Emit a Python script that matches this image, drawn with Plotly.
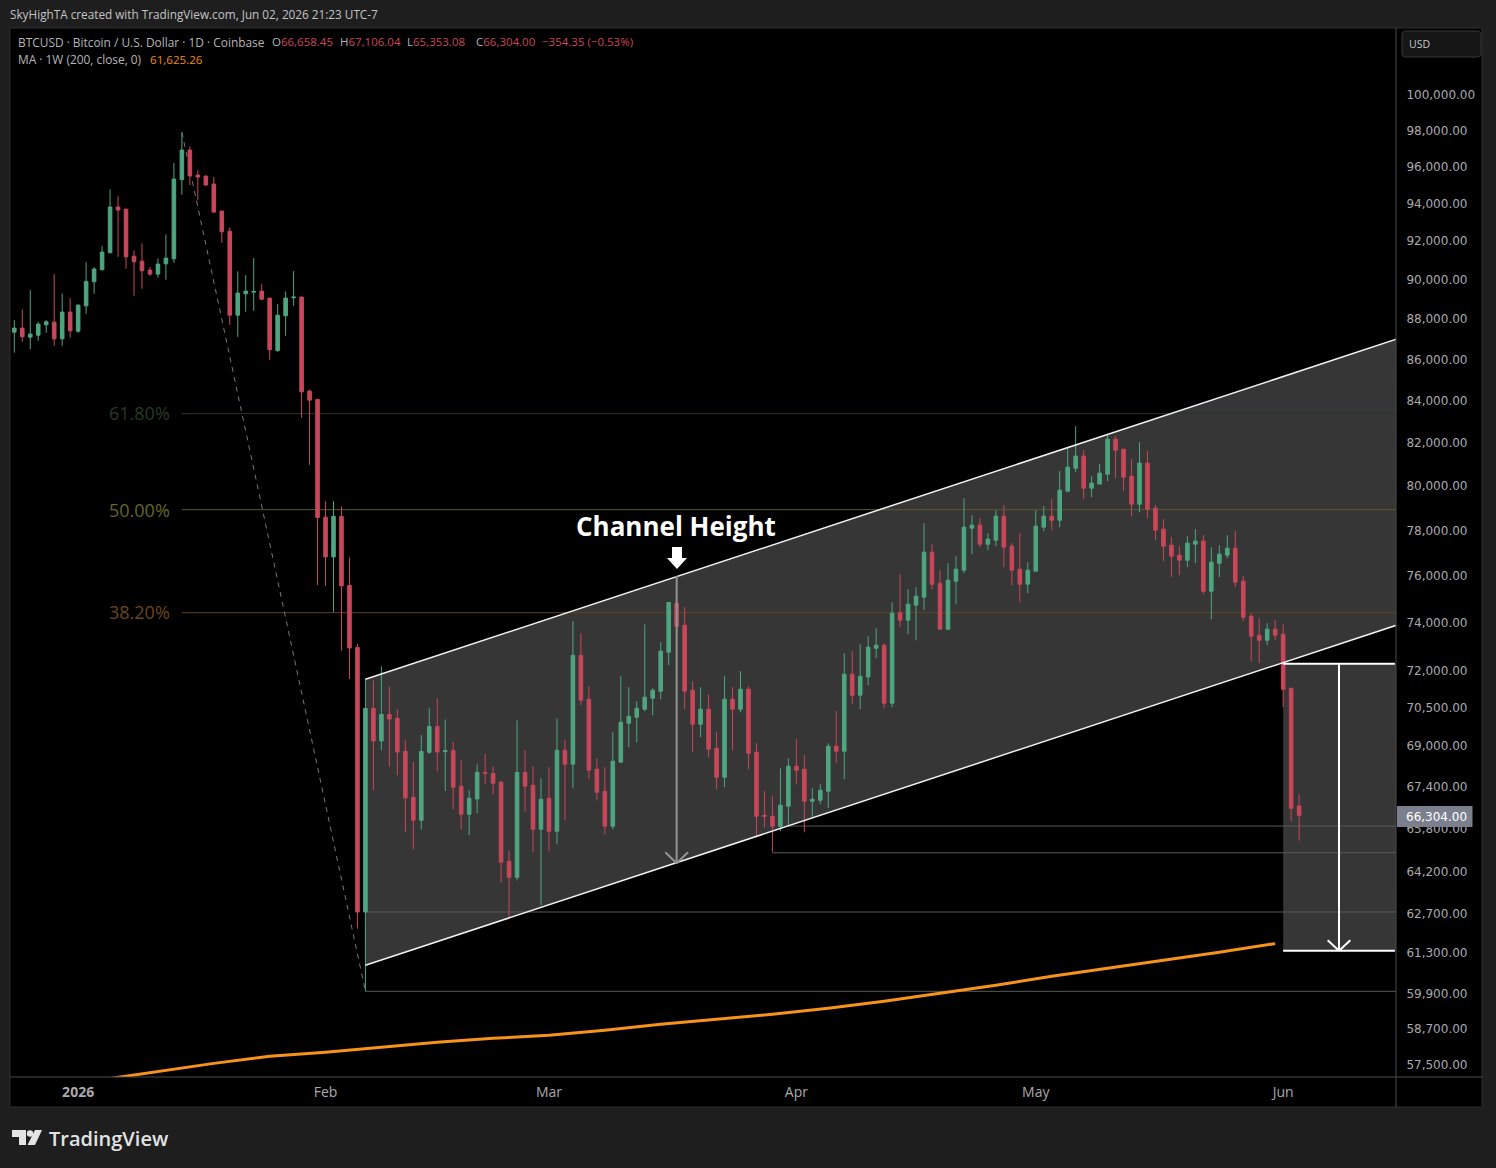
import pandas as pd
import plotly.graph_objects as go

# Daily BTCUSD bars, consecutive days from the first session
first_session = "2025-12-24"
opens = [
    87350, 87550, 87100, 87200, 87716, 87850, 87016, 88354, 87400, 88670, 89895, 90512, 91394, 93810, 93700, 91220,
    90960, 90496, 90290, 90822, 91080, 95290, 96911, 95538, 95480, 95050, 93595, 92530, 88200, 89280, 89366, 89418,
    89062, 86440, 88170, 89080, 89115, 84460, 84060, 78600, 76838, 78632, 75596, 72965, 62747, 70470, 69180, 70230,
    70070, 68774, 66990, 66118, 68735, 69750, 68760, 68800, 67414, 66345, 66927, 67943, 67905, 67568, 64590, 64000,
    67943, 67452, 65780, 66953, 65704, 68813, 68265, 72646, 70845, 68070, 67222, 65892, 68343, 69880, 70120, 70442,
    70886, 71170, 72771, 74835, 73900, 71210, 69840, 70442, 68892, 67761, 70845, 70442, 71250, 68735, 66307, 66270,
    65892, 66650, 68188, 68070, 66839, 66877, 67222, 68970, 68774, 71864, 71007, 71750, 72937, 73062, 70684, 74421,
    74112, 74750, 75091, 77045, 75695, 73733, 75781, 76258, 78108, 78242, 77398, 77575, 78645, 77310, 76302, 75651,
    76214, 78153, 78645, 78465, 79775, 80828, 81384, 79911, 80095, 80552, 82177, 81710, 80460, 79185, 81060, 79004,
    78064, 77354, 76914, 76694, 77398, 77531, 75349, 76563, 76914, 77221, 75781, 74281, 73481, 73271, 73733, 73523,
    71290, 66658.45,
]
highs = [
    87950, 88490, 89469, 87866, 87950, 90290, 89300, 89062, 88756, 90894, 90652, 91745, 94762, 94400, 93700, 91520,
    91884, 90650, 91100, 92358, 96194, 97894, 97115, 95811, 95520, 95430, 93595, 92730, 90430, 90240, 91118, 89776,
    89070, 88756, 89400, 90445, 89130, 84540, 84060, 79320, 79320, 79080, 76810, 73130, 71685, 71617, 72190, 71345,
    70440, 69207, 68355, 69405, 70480, 70886, 70030, 69140, 68421, 67260, 68265, 68668, 68188, 67618, 64970, 70001,
    68813, 68188, 67722, 68149, 70070, 69207, 74070, 73565, 71373, 68500, 68149, 69524, 71780, 71332, 70765, 73943,
    71290, 73188, 74878, 75998, 74664, 71576, 71332, 71048, 69524, 71780, 71332, 71986, 71373, 69088, 67222, 67030,
    68110, 68500, 69246, 68617, 67337, 67490, 69088, 70362, 72730, 72813, 73104, 73440, 73775, 73146, 74878, 76084,
    75435, 75522, 78331, 77398, 76258, 76563, 76870, 79456, 78689, 78555, 77885, 78914, 79140, 77442, 77885, 76606,
    78914, 79095, 79411, 80690, 81756, 82788, 81663, 80460, 81013, 82412, 82318, 81710, 81244, 82036, 81617, 79140,
    78510, 77708, 77310, 77752, 78064, 77797, 77265, 77354, 77797, 77975, 75998, 74408, 74197, 73985, 74112, 73943,
    71290, 67106.04,
]
lows = [
    86330, 86870, 86508, 86920, 87315, 86674, 86674, 87065, 87315, 88270, 89280, 90496, 91394, 91185, 90564, 89178,
    89535, 90200, 90100, 90000, 90870, 94470, 94996, 94170, 94950, 93500, 91915, 87716, 87116, 88370, 88420, 88960,
    85980, 86375, 87170, 88670, 83180, 80980, 75608, 75578, 74464, 72825, 71670, 62155, 59970, 67260, 68813, 68160,
    67838, 65680, 65033, 65770, 68668, 67993, 67233, 66535, 65770, 65555, 66383, 67490, 67107, 63820, 62510, 63892,
    66450, 64922, 62988, 64959, 65220, 66118, 67337, 70603, 67684, 66877, 65592, 65780, 68343, 68930, 69117, 70362,
    70200, 70845, 72233, 73355, 70442, 68735, 69325, 68538, 67298, 67375, 68813, 70322, 68070, 65480, 65855, 64922,
    65704, 65892, 67490, 65667, 66232, 66725, 66573, 68304, 67684, 70644, 70442, 71413, 72522, 70482, 70522, 73817,
    73523, 73271, 74536, 75435, 73733, 73691, 74792, 76128, 76958, 77265, 77133, 77310, 76388, 75608, 74877, 75263,
    76214, 77975, 78019, 78153, 79730, 80644, 79411, 79500, 80095, 80232, 80368, 79775, 78645, 78824, 78555, 77575,
    76650, 75955, 76041, 76388, 76563, 75220, 74154, 75955, 76782, 75522, 74070, 72400, 72316, 73062, 73271, 70522,
    66080, 65353.08,
]
closes = [
    87550, 87120, 87250, 87751, 87866, 87016, 88354, 87416, 88705, 89915, 90548, 91430, 93810, 93649, 91185, 90926,
    90460, 90290, 90806, 91118, 95320, 96911, 95497, 95430, 95000, 93540, 92495, 88200, 89316, 89418, 89400, 89010,
    86475, 88200, 89062, 89115, 84425, 84026, 78585, 76838, 78632, 75578, 72948, 62747, 70470, 69180, 70230, 70050,
    68746, 66965, 66118, 68762, 69750, 68746, 68800, 67375, 66345, 66953, 67955, 67915, 67530, 64553, 64000, 67943,
    67414, 65780, 66915, 65704, 68813, 68265, 72646, 70805, 68032, 67183, 65892, 68382, 69920, 70160, 70482, 70926,
    71210, 72813, 74865, 73859, 71170, 69840, 70442, 68852, 67761, 70845, 70442, 71250, 68695, 66270, 66270, 65892,
    66687, 68188, 68032, 66839, 66915, 67260, 68970, 68774, 71864, 71007, 71780, 72980, 73062, 70684, 74408, 74112,
    74792, 75134, 77045, 75651, 73733, 75824, 76302, 78153, 78242, 77398, 77620, 78645, 77265, 76258, 75651, 76258,
    78197, 78645, 78465, 79820, 80875, 81384, 79911, 80140, 80600, 82177, 81663, 80414, 79185, 81060, 78959, 78019,
    77310, 76870, 76694, 77442, 77531, 75349, 76606, 76958, 77221, 75738, 74239, 73439, 73271, 73733, 73481, 71250,
    66573, 66304.00,
]

# 200-week moving average, sampled once per week
ma_dates = [
    "2026-01-03", "2026-01-10", "2026-01-18", "2026-01-25", "2026-02-01", "2026-02-08", "2026-02-15", "2026-02-22",
    "2026-03-01", "2026-03-08", "2026-03-15", "2026-03-22", "2026-03-29", "2026-04-05", "2026-04-12", "2026-04-19",
    "2026-04-26", "2026-05-03", "2026-05-10", "2026-05-17", "2026-05-24", "2026-05-31",
]
ma_values = [
    56985, 57262, 57556, 57787, 57919, 58085, 58251, 58384, 58484, 58651, 58852, 59020, 59189, 59392, 59629, 59902,
    60176, 60486, 60762, 61041, 61320, 61625.26,
]

price_ticks = [
    100000, 98000, 96000, 94000, 92000, 90000, 88000, 86000, 84000, 82000, 80000, 78000, 76000, 74000, 72000,
    70500, 69000, 67400, 65800, 64200, 62700, 61300, 59900, 58700, 57500,
]
month_ticks = ["2026-01-01", "2026-02-01", "2026-03-01", "2026-04-01", "2026-05-01", "2026-06-01"]
month_labels = ["<b>2026</b>", "Feb", "Mar", "Apr", "May", "Jun"]

# Rising channel: upper and lower rails between two anchor days
channel_days = ["2026-02-06", "2026-06-20"]
channel_upper = [71658, 87631]
channel_lower = [60867, 74435]

# Fibonacci retracements of the January-February drop
fib_labels = ["61.80%", "50.00%", "38.20%"]
fib_prices = [83382, 78936, 74430]
fib_line_colors = ["#26352a", "#5a5a2c", "#5e4420"]
fib_text_colors = ["#263a26", "#66652a", "#6b4620"]
swing_high = ("2026-01-14", 97894)
swing_low = ("2026-02-06", 59970)

# Horizontal levels drawn from a chosen session out to the right edge
level_starts = ["2026-02-06", "2026-02-06", "2026-03-29", "2026-03-31"]
level_prices = [59970, 62747, 64904, 65900]

# Measured-move projection
target_top, target_bottom = 72296, 61372
channel_top_touch, channel_bottom_touch = 76000, 64515

dates = pd.date_range(first_session, periods=len(opens), freq="D")
x_range = ["2025-12-23 11:04", "2026-06-15 03:23"]
x_end = "2026-06-20"

PLOT_L, PLOT_T, PLOT_W, PLOT_H = 10, 28, 1386, 1049
PANEL = "#000000"
PAGE = "#1e1e1e"
LINE = "#4a4a4a"
BAND = "#363636"
TEXT = "#a9a9ae"
RED = "#c9475a"
GREEN = "#4ea680"
UI_FONT = "Open Sans"
PRICE_FONT = "DejaVu Sans"


def px(x):
    return (x - PLOT_L) / PLOT_W


def py(y):
    return (PLOT_T + PLOT_H - y) / PLOT_H


def label(x, y, text, color=TEXT, size=11, anchor="left", family=UI_FONT, weight="normal"):
    return dict(
        xref="paper", yref="paper", x=px(x), y=py(y), text=text, showarrow=False,
        xanchor=anchor, yanchor="middle", align="left", xshift=0, yshift=0,
        font=dict(family=family, size=size, color=color, weight=weight), borderpad=0, borderwidth=0,
    )


def hline(d0, d1, price, color, width=1, layer="below", dash="solid"):
    return dict(
        type="line", xref="x", yref="y", x0=d0, x1=d1, y0=price, y1=price, layer=layer,
        line=dict(color=color, width=width, dash=dash),
    )


def seg(d0, p0, d1, p1, color, width=1, layer="below", dash="solid"):
    return dict(
        type="line", xref="x", yref="y", x0=d0, x1=d1, y0=p0, y1=p1, layer=layer,
        line=dict(color=color, width=width, dash=dash),
    )


def paper_rect(x0, y0, x1, y1, fill=None, line=None, layer="below"):
    return dict(
        type="rect", xref="paper", yref="paper", x0=px(x0), x1=px(x1), y0=py(y0), y1=py(y1), layer=layer,
        fillcolor=fill or "rgba(0,0,0,0)",
        line=dict(color=line or "rgba(0,0,0,0)", width=1 if line else 0),
    )


def paper_poly(points, fill, layer="above"):
    path = "M" + " L".join(f"{px(x):.5f},{py(y):.5f}" for x, y in points) + " Z"
    return dict(type="path", xref="paper", yref="paper", path=path, fillcolor=fill, layer=layer,
                line=dict(color=fill, width=0))


def rounded_badge(x0, y0, x1, y1, r, fill, edge):
    path = (
        f"M{px(x0 + r):.5f},{py(y0):.5f} L{px(x1 - r):.5f},{py(y0):.5f} Q{px(x1):.5f},{py(y0):.5f} {px(x1):.5f},{py(y0 + r):.5f} "
        f"L{px(x1):.5f},{py(y1 - r):.5f} Q{px(x1):.5f},{py(y1):.5f} {px(x1 - r):.5f},{py(y1):.5f} "
        f"L{px(x0 + r):.5f},{py(y1):.5f} Q{px(x0):.5f},{py(y1):.5f} {px(x0):.5f},{py(y1 - r):.5f} "
        f"L{px(x0):.5f},{py(y0 + r):.5f} Q{px(x0):.5f},{py(y0):.5f} {px(x0 + r):.5f},{py(y0):.5f} Z"
    )
    return dict(type="path", xref="paper", yref="paper", path=path, fillcolor=fill, layer="above",
                line=dict(color=edge, width=1))


shapes = [
    # dark panel behind the chart and the two axis strips
    paper_rect(10, 28, 1482, 1107, fill=PANEL, line="#2e2e2e"),
    # channel body
    dict(
        type="path", xref="x", yref="y", layer="below", fillcolor=BAND, line=dict(width=0),
        path=(f"M{channel_days[0]},{channel_upper[0]} L{channel_days[1]},{channel_upper[1]} "
              f"L{channel_days[1]},{channel_lower[1]} L{channel_days[0]},{channel_lower[0]} Z"),
    ),
    # projected target zone
    dict(type="rect", xref="x", yref="y", x0="2026-06-01", x1=x_end, y0=target_bottom, y1=target_top,
         layer="below", fillcolor=BAND, line=dict(width=0)),
]
for name_price, color in zip(fib_prices, fib_line_colors):
    shapes.append(hline(swing_high[0], x_end, name_price, color))
for start, price in zip(level_starts, level_prices):
    shapes.append(hline(start, x_end, price, "#5a5a5a"))
shapes += [
    seg(swing_high[0], swing_high[1], swing_low[0], swing_low[1], "#777777", 1, dash="5px,5px"),
    # channel rails
    seg(channel_days[0], channel_upper[0], channel_days[1], channel_upper[1], "#f2f2f2", 1.5, "above"),
    seg(channel_days[0], channel_lower[0], channel_days[1], channel_lower[1], "#f2f2f2", 1.5, "above"),
    # channel height arrow
    seg("2026-03-17", channel_top_touch, "2026-03-17", channel_bottom_touch, "#939393", 2, "above"),
    seg("2026-03-15 14:00", 64922, "2026-03-17", channel_bottom_touch, "#939393", 2, "above"),
    seg("2026-03-18 10:00", 64922, "2026-03-17", channel_bottom_touch, "#939393", 2, "above"),
    # projected move arrow and its bounds
    seg("2026-06-01", target_top, "2026-06-15 00:00", target_top, "#ffffff", 2, "above"),
    seg("2026-06-01", target_bottom, "2026-06-15 00:00", target_bottom, "#ffffff", 2, "above"),
    seg("2026-06-08", target_top, "2026-06-08", target_bottom, "#ffffff", 2, "above"),
    seg("2026-06-06 14:00", 61741, "2026-06-08", target_bottom, "#ffffff", 2, "above"),
    seg("2026-06-09 10:00", 61741, "2026-06-08", target_bottom, "#ffffff", 2, "above"),
    # axis frame
    dict(type="line", xref="paper", yref="paper", x0=px(1396), x1=px(1396), y0=py(28), y1=py(1107), layer="above",
         line=dict(color=LINE, width=1)),
    dict(type="line", xref="paper", yref="paper", x0=px(10), x1=px(1482), y0=py(1077), y1=py(1077), layer="above",
         line=dict(color=LINE, width=1)),
    # currency badge
    rounded_badge(1402, 31, 1481, 57, 4, "#161616", "#363636"),
    # last price tag
    paper_rect(1397, 806, 1472.5, 827, fill="#7c7f8e", layer="above"),
    # block arrow above the channel touch
    paper_poly([(672, 547), (682, 547), (682, 558), (687, 558), (677, 569), (667, 558), (672, 558)], "#ffffff"),
    # TradingView mark
    paper_poly([(12, 1130), (26, 1130), (26, 1145), (19, 1145), (19, 1137), (12, 1137)], "#e3e3e3"),
    paper_poly([(35, 1130), (42, 1130), (35, 1145), (27.5, 1145)], "#e3e3e3"),
    dict(type="circle", xref="paper", yref="paper", x0=px(26.8), x1=px(33.2), y0=py(1130.3), y1=py(1136.7),
         layer="above", fillcolor="#e3e3e3", line=dict(width=0)),
]

annotations = [
    label(10, 14, "SkyHighTA created with TradingView.com, Jun 02, 2026 21:23 UTC-7", "#c4c4c4", 11.75),
    label(18, 42, "BTCUSD · Bitcoin / U.S. Dollar · 1D · Coinbase", "#b4b4b8", 11.9),
    label(272, 42, f'O<span style="color:{RED}">66,658.45</span>', "#b4b4b8", 11.5),
    label(340, 42, f'H<span style="color:{RED}">67,106.04</span>', "#b4b4b8", 11.5),
    label(407, 42, f'L<span style="color:{RED}">65,353.08</span>', "#b4b4b8", 11.5),
    label(476, 42, f'C<span style="color:{RED}">66,304.00</span>', "#b4b4b8", 11.5),
    label(542, 42, "−354.35 (−0.53%)", RED, 11.5),
    label(18, 59, "MA · 1W (200, close, 0)", "#b4b4b8", 11.9),
    label(150, 59, "61,625.26", "#f08c10", 11.6),
    label(1409, 44, "USD", "#c8c8cc", 10.5),
    label(1405.5, 816.5, "66,304.00", "#ffffff", 12, family=PRICE_FONT),
    label(676, 525.5, "<b>Channel Height</b>", "#ffffff", 26, "center"),
    label(49, 1138, "TradingView", "#e3e3e3", 20, weight=600),
]
for text, price_color, y_pos in zip(fib_labels, fib_text_colors, (412.5, 509.5, 611.5)):
    annotations.append(label(170, y_pos, text, price_color, 18, "right"))

fig = go.Figure()
fig.add_trace(go.Candlestick(
    x=dates, open=opens, high=highs, low=lows, close=closes,
    increasing=dict(line=dict(color=GREEN, width=1), fillcolor=GREEN),
    decreasing=dict(line=dict(color=RED, width=1), fillcolor=RED),
    whiskerwidth=0, showlegend=False, hoverinfo="skip",
))
fig.add_trace(go.Scatter(
    x=ma_dates, y=ma_values, mode="lines", line=dict(color="#f7931a", width=3),
    showlegend=False, hoverinfo="skip",
))

fig.update_layout(
    width=1496, height=1168, autosize=False,
    margin=dict(l=PLOT_L, r=1496 - PLOT_L - PLOT_W, t=PLOT_T, b=1168 - PLOT_T - PLOT_H, pad=0),
    paper_bgcolor=PAGE, plot_bgcolor=PANEL,
    boxgap=0.36, showlegend=False, shapes=shapes, annotations=annotations,
    xaxis=dict(
        type="date", range=x_range, rangeslider=dict(visible=False), showgrid=False, zeroline=False,
        tickmode="array", tickvals=month_ticks, ticktext=month_labels, ticks="outside", ticklen=2,
        tickcolor="rgba(0,0,0,0)", tickfont=dict(family=UI_FONT, size=14, color=TEXT), showline=False,
    ),
    yaxis=dict(
        type="log", side="right", range=[4.75671, 5.016616], showgrid=False, zeroline=False,
        tickmode="array", tickvals=price_ticks, ticktext=[f"{v:,.2f}" for v in price_ticks],
        ticks="outside", ticklen=7, tickcolor="rgba(0,0,0,0)",
        tickfont=dict(family=PRICE_FONT, size=12, color=TEXT), showline=False,
    ),
)

fig.write_html("out.html")
